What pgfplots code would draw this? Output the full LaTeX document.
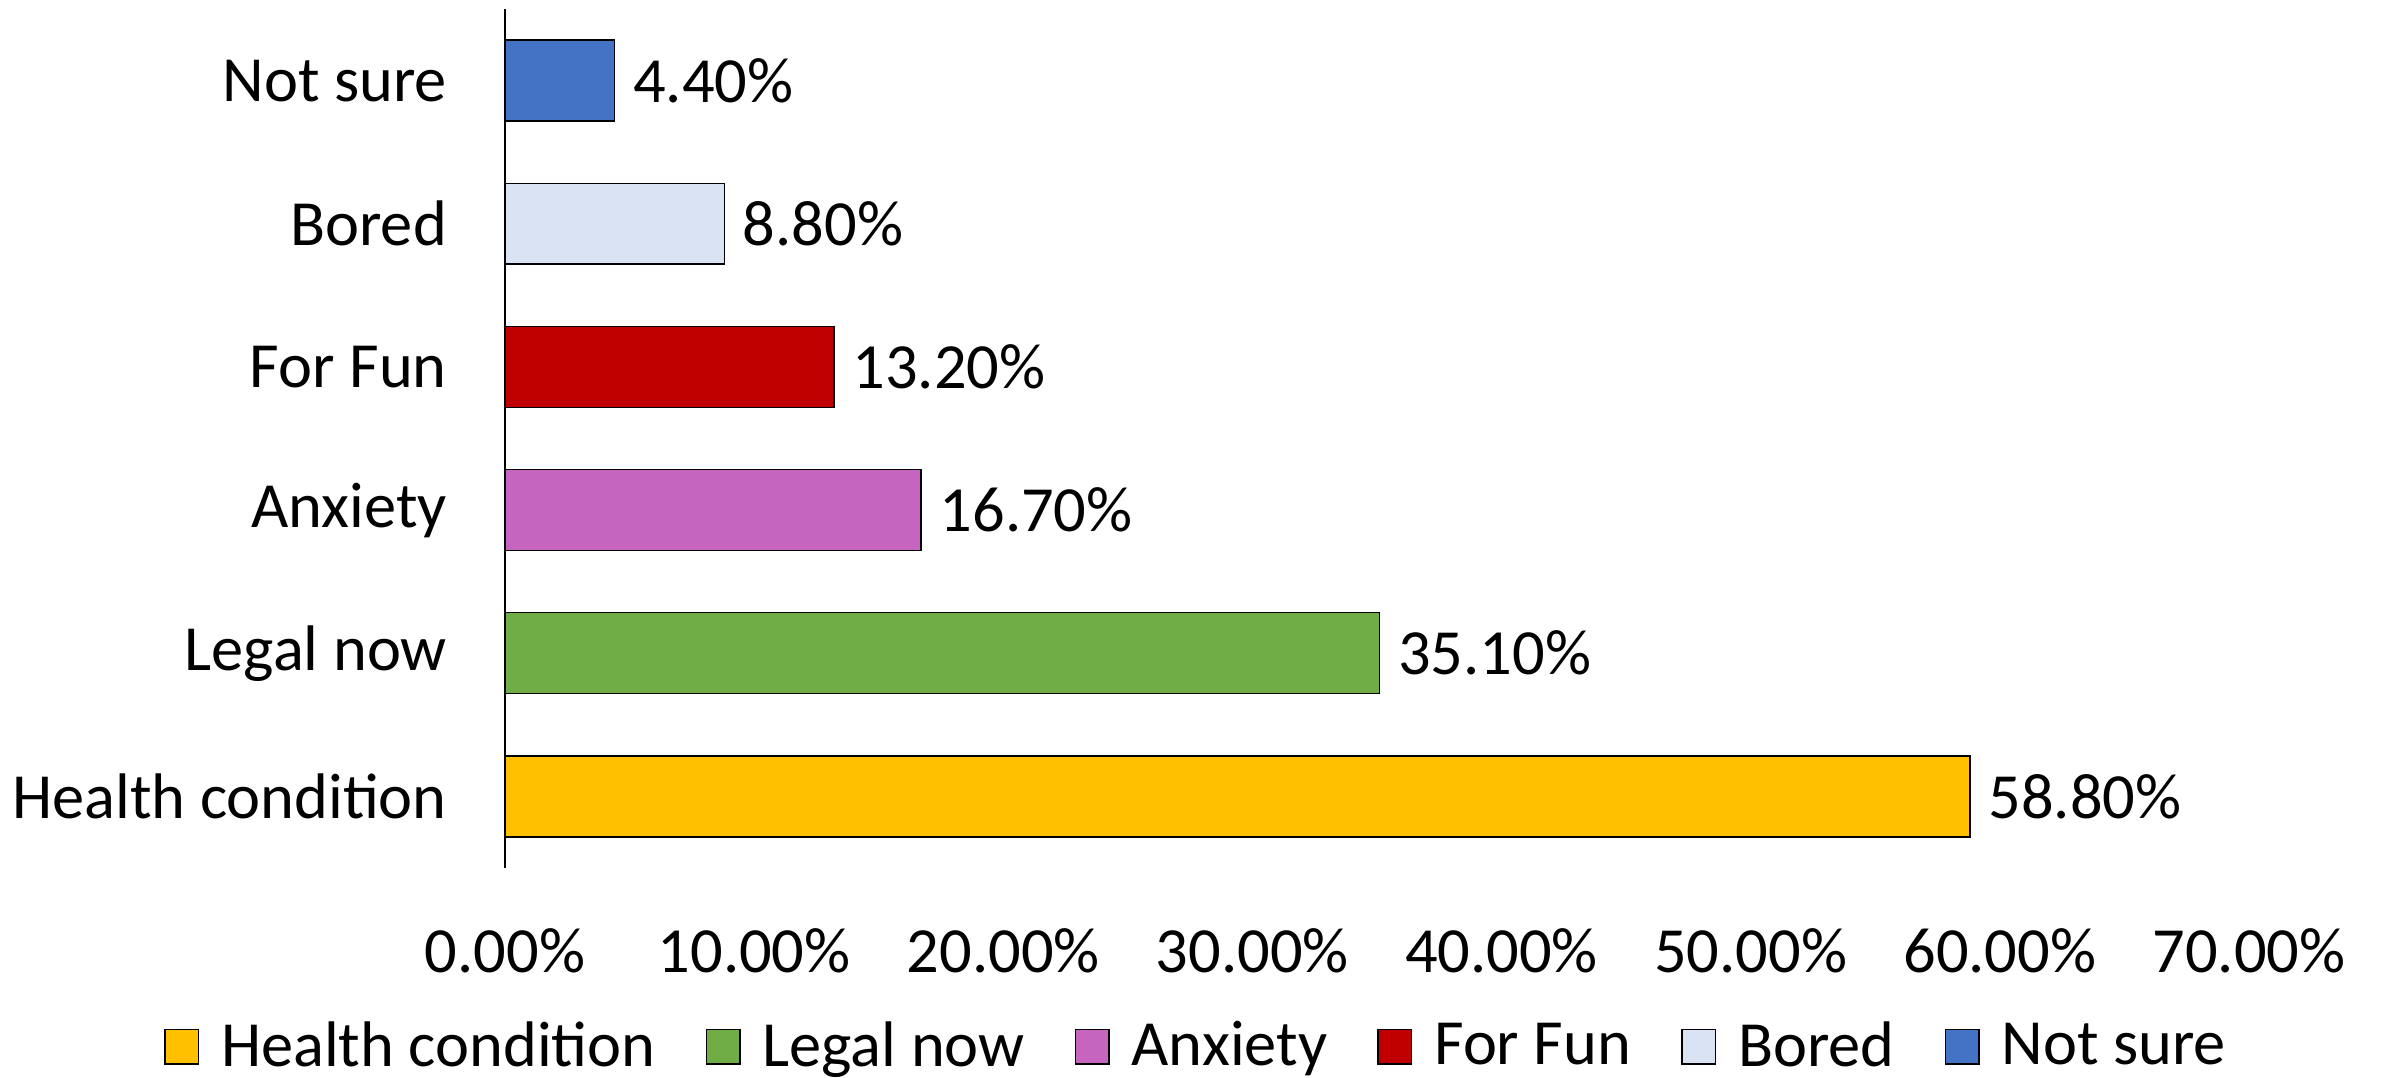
\documentclass[border=0pt]{standalone}
\usepackage{fontspec}
\setmainfont{Carlito}
\usepackage{pgfplots}
\pgfplotsset{compat=1.18}

\definecolor{cHealth}{HTML}{FFC000}
\definecolor{cLegal}{HTML}{70AD47}
\definecolor{cAnx}{HTML}{C565BF}
\definecolor{cFun}{HTML}{C00000}
\definecolor{cBored}{HTML}{DAE3F3}
\definecolor{cNot}{HTML}{4472C4}

\begin{document}
\begin{tikzpicture}[font=\fontsize{16.1}{19}\selectfont]
\useasboundingbox (-126.25pt,-52.5pt) rectangle (470.5pt,217pt);
\begin{axis}[
    scale only axis,
    width=436pt, height=214.75pt,
    xbar, bar shift=0pt, bar width=0.565,
    xmin=0, xmax=70, ymin=-0.5, ymax=5.5,
    xtick={0,10,...,70},
    ytick={0,...,5},
    yticklabels={Health condition, Legal now, Anxiety, For Fun, Bored, Not sure},
    /pgf/number format/assume math mode=true,
    xticklabel={\pgfmathprintnumber[fixed,fixed zerofill,precision=2]{\tick}\%},
    xticklabel style={yshift=-11.5pt},
    yticklabel style={xshift=-11pt},
    major tick length=0pt,
    axis lines*=left,
    x axis line style={draw=none},
    y axis line style={-, black, line width=0.5pt},
    nodes near coords={\pgfmathprintnumber[fixed,fixed zerofill,precision=2]{\pgfplotspointmeta}\%},
    every node near coord/.append style={inner sep=2pt, xshift=2.5pt},
    every axis plot/.append style={draw=black, line width=0.35pt},
    legend style={at={(0.398,-0.208)}, anchor=center, legend columns=-1, draw=none,
        /tikz/every odd column/.append style={column sep=3.5pt},
        /tikz/every even column/.append style={column sep=10.5pt}},
    legend image code/.code={\draw[#1,draw=black,line width=0.35pt] (0pt,-4.3pt) rectangle (8.4pt,4.3pt);},
    clip=false,
]
\addplot[fill=cHealth] coordinates {(58.8,0)};
\addplot[fill=cLegal] coordinates {(35.1,1)};
\addplot[fill=cAnx] coordinates {(16.7,2)};
\addplot[fill=cFun] coordinates {(13.2,3)};
\addplot[fill=cBored] coordinates {(8.8,4)};
\addplot[fill=cNot] coordinates {(4.4,5)};
\legend{Health condition, Legal now, Anxiety, For Fun, Bored, Not sure}
\end{axis}
\end{tikzpicture}
\end{document}
